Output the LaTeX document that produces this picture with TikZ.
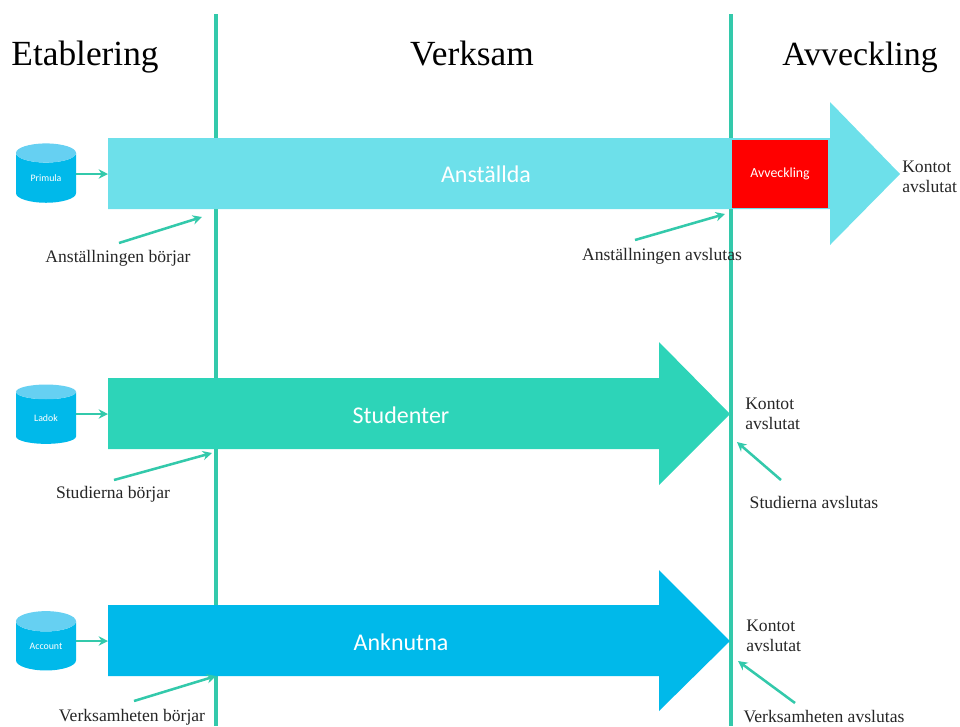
\documentclass[tikz,border=0pt]{standalone}
\usepackage{fontspec}
\setmainfont{Liberation Serif}
\newfontfamily\sansf{Carlito}
\usetikzlibrary{shapes.geometric,arrows.meta}
\definecolor{teal1}{HTML}{2DD4B8}
\definecolor{lineC}{HTML}{33C9AB}
\definecolor{cyan1}{HTML}{6DE0EA}
\definecolor{blue1}{HTML}{00B9EA}
\definecolor{dbtop}{HTML}{66D0F2}
\definecolor{txt}{HTML}{262626}
\tikzset{
  x=0.75pt,y=-0.75pt,
  phase/.style={inner sep=0pt,anchor=base,font=\fontsize{26.5}{28}\selectfont,text=black},
  note/.style={inner sep=0pt,anchor=center,font=\fontsize{13.2}{14.6}\selectfont,text=txt},
  noteL/.style={note,align=left},
  vline/.style={draw=lineC,line width=2.4pt},
  ptr/.style={draw=lineC,line width=1.9pt,-{Stealth[length=7pt,width=7pt]}},
  barlabel/.style={inner sep=0pt,anchor=center,text=white,font=\sansf\fontsize{18}{20}\selectfont},
  db/.style={cylinder,shape border rotate=90,aspect=0.62,draw=none,minimum width=45pt,minimum height=44.5pt,inner sep=0pt,
     cylinder uses custom fill,cylinder body fill=blue1,cylinder end fill=dbtop,text=white,font=\sansf\fontsize{7.4}{8}\selectfont},
}
\begin{document}
\begin{tikzpicture}
\useasboundingbox (0,0) rectangle (960,726);
% phase lines
\coordinate (l1t) at (216,14); \coordinate (l1b) at (216,726);
\coordinate (l2t) at (731,14); \coordinate (l2b) at (731,726);
\draw[vline] (l1t) -- (l1b);
\draw[vline] (l2t) -- (l2b);
% big arrows
\fill[cyan1] (108,138) -- (830,138) -- (830,102) -- (900,174) -- (830,245) -- (830,209) -- (108,209) -- cycle;
\fill[teal1] (108,378) -- (659,378) -- (659,342) -- (730,414) -- (659,485) -- (659,449) -- (108,449) -- cycle;
\fill[blue1] (108,605) -- (659,605) -- (659,570) -- (730,641) -- (659,711) -- (659,676) -- (108,676) -- cycle;
\coordinate (anstW) at (108,174);
\coordinate (studW) at (108,414);
\coordinate (anknW) at (108,641);
% red box
\node[fill=red,minimum width=72pt,minimum height=50.5pt,inner sep=0pt,text=white,font=\sansf\fontsize{10.4}{11}\selectfont] (avv) at (780,174) {Avveckling};
% headings
\node[phase] (h1) at (85,65) {Etablering};
\node[phase] (h2) at (472,65) {Verksam};
\node[phase,font=\fontsize{25.4}{28}\selectfont] (h3) at (860,65) {Avveckling};
% bar labels
\node[barlabel] (anst) at (486,174) {Anställda};
\node[barlabel] (stud) at (401,415) {Studenter};
\node[barlabel] (ankn) at (401,642) {Anknutna};
% databases
\node[db] (primula) at (46,178) {Primula};
\node[db] (ladok) at (46,418) {Ladok};
\node[db] (account) at (46,646) {Account};
\draw[ptr] (primula.east |- anstW) -- (anstW);
\draw[ptr] (ladok.east |- studW) -- (studW);
\draw[ptr] (account.east |- anknW) -- (anknW);
% notes
\node[note] (n1) at (118,258) {Anställningen börjar};
\node[note] (n2) at (662,256) {Anställningen avslutas};
\node[noteL,anchor=north west] (n3) at (902,161) {Kontot\\avslutat};
\node[noteL,anchor=north west] (n4) at (745,398) {Kontot\\avslutat};
\node[note] (n5) at (113,494) {Studierna börjar};
\node[note] (n6) at (814,502) {Studierna avslutas};
\node[noteL,anchor=north west] (n7) at (746,620) {Kontot\\avslutat};
\node[note] (n8) at (132,717) {Verksamheten börjar};
\node[note] (n9) at (824,717) {Verksamheten avslutas};
% pointers
\coordinate (p1s) at (119,243); \coordinate (p1e) at (202,217);
\coordinate (p2s) at (635,240); \coordinate (p2e) at (725,214);
\coordinate (p5s) at (114,480); \coordinate (p5e) at (212,453);
\coordinate (p6s) at (781,480); \coordinate (p6e) at (737,442);
\coordinate (p8s) at (134,701); \coordinate (p8e) at (216,676);
\coordinate (p9s) at (795,703); \coordinate (p9e) at (738,661);
\draw[ptr] (p1s) -- (p1e);
\draw[ptr] (p2s) -- (p2e);
\draw[ptr] (p5s) -- (p5e);
\draw[ptr] (p6s) -- (p6e);
\draw[ptr] (p8s) -- (p8e);
\draw[ptr] (p9s) -- (p9e);
\end{tikzpicture}
\end{document}
